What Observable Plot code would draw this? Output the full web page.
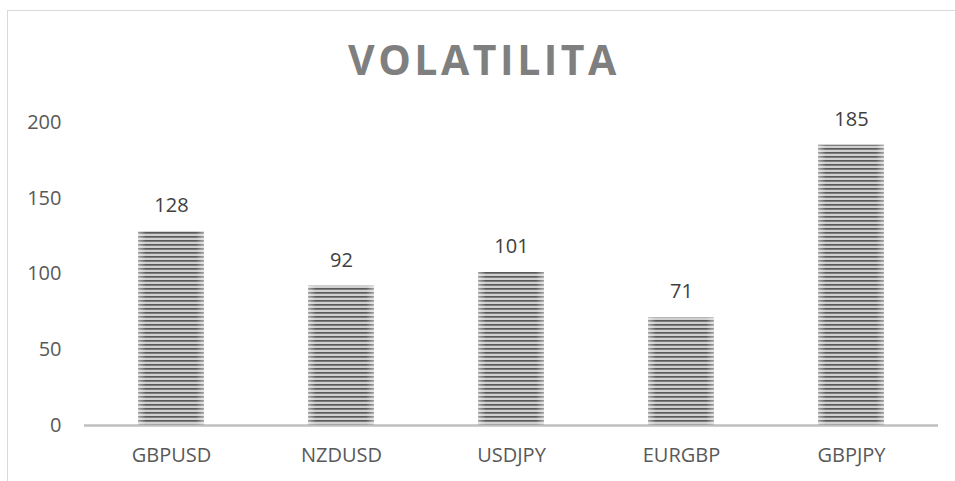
<!DOCTYPE html>
<html><head><meta charset="utf-8">
<script src="https://cdn.jsdelivr.net/npm/d3@7"></script>
<script src="https://cdn.jsdelivr.net/npm/@observablehq/plot@0.6"></script>
<style>
body{margin:0;background:#fff;}
#wrap{position:relative;width:955px;height:481px;overflow:hidden;font-family:"Open Sans",sans-serif;}
#frame{position:absolute;left:7px;top:10px;width:960px;height:480px;border-left:1.5px solid #d9d9d9;border-top:1.5px solid #d9d9d9;}
#title{position:absolute;left:0;top:39px;width:968px;text-align:center;font-size:41px;line-height:1;font-weight:700;letter-spacing:3.5px;color:#7f7f7f;}
#chart{position:absolute;left:0;top:0;}
</style>
</head><body>
<div id="wrap"><div id="frame"></div><div id="chart"></div><div id="title">VOLATILITA</div></div>
<script>
const categories = ["GBPUSD", "NZDUSD", "USDJPY", "EURGBP", "GBPJPY"];
const values = [128, 92, 101, 71, 185];
const yTicks = [0, 50, 100, 150, 200];
const title = "VOLATILITA";

const data = categories.map((c, i) => ({cat: c, v: values[i]}));

const plot = Plot.plot({
  width: 955,
  height: 481,
  marginLeft: 84,
  marginRight: 17,
  marginTop: 122,
  marginBottom: 56,
  style: {fontFamily: "'Open Sans', sans-serif", color: "#595959", background: "transparent", overflow: "visible"},
  x: {domain: categories, paddingInner: 0.614, paddingOuter: 0.307, label: null},
  y: {domain: [0, 200], label: null},
  marks: [
    Plot.barY(data, {x: "cat", y: "v", fill: "url(#stripes)"}),
    Plot.barY(data, {x: "cat", y: "v", fill: "url(#edges)"}),
    Plot.ruleY([0], {stroke: "#bfbfbf", strokeWidth: 2.5}),
    Plot.axisY({ticks: yTicks, tickSize: 0, tickPadding: 23, fontSize: 20, label: null}),
    Plot.axisX({tickSize: 0, tickPadding: 22, fontSize: 20, label: null}),
    Plot.text(data, {x: "cat", y: "v", text: d => String(d.v), dy: -26, fontSize: 20, fill: "#404040"})
  ]
});

const defs = d3.select(plot).insert("defs", ":first-child");
const pat = defs.append("pattern").attr("id", "stripes").attr("patternUnits", "userSpaceOnUse")
  .attr("width", 10).attr("height", 4);
pat.append("rect").attr("width", 10).attr("height", 4).attr("fill", "#d0d0d0");
pat.append("rect").attr("width", 10).attr("height", 1.7).attr("fill", "#5a5a5a");
const g = defs.append("linearGradient").attr("id", "edges").attr("x1", 0).attr("x2", 1).attr("y1", 0).attr("y2", 0);
[[0, 0.45], [0.12, 0], [0.88, 0], [1, 0.45]].forEach(([o, a]) =>
  g.append("stop").attr("offset", o).attr("stop-color", "#ffffff").attr("stop-opacity", a));

document.getElementById("chart").appendChild(plot);
</script>
</body></html>
